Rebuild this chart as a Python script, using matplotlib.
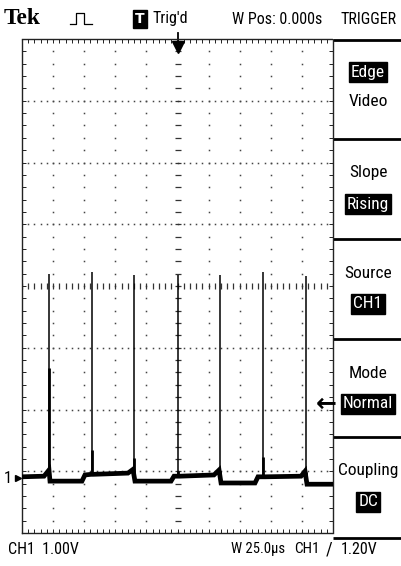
import numpy as np
import matplotlib
matplotlib.use("Agg")
import matplotlib.pyplot as plt
from matplotlib import font_manager as fm
from matplotlib.transforms import blended_transform_factory

# ---- scope settings --------------------------------------------------------
volts_per_div = 1.00
us_per_div = 25.0
trig_level = 1.20
ground_div = 3.11          # ground marker sits 3.11 div below screen centre

# ---- waveform (time in us, volts above ground) -----------------------------
base_t = [-125.0, -107.3, -104.1, -103.3, -102.5, -76.8, -74.4, -69.5, -67.9,
          -39.8, -35.8, -34.2, -5.2, -2.8, 0.4, 2.0, 29.3, 33.4, 35.0, 62.3,
          64.7, 68.7, 70.4, 99.3, 102.5, 104.1, 125.0]
base_v = [0.02, 0.03, 0.11, 0.13, -0.05, -0.05, 0.05, 0.06, 0.06,
          0.08, 0.14, -0.05, -0.05, 0.03, 0.03, 0.03, 0.05, 0.13, -0.08, -0.08,
          0.02, 0.02, 0.02, 0.03, 0.11, -0.10, -0.10]

pulse_t = [-103.3, -68.7, -35.0, 0.0, 34.2, 68.7, 103.3]
pulse_top = [3.31, 3.34, 3.29, 3.29, 3.29, 3.33, 3.28]
pulse_foot = [1.79, 0.45, 0.32, 0.12, 0.12, 0.34, 0.10]   # heavier lower part

# ---- right-hand menu -------------------------------------------------------
menu_top = ["Edge", "Slope", "Source", "Mode", "Coupling"]
menu_bot = ["Video", "Rising", "CH1", "Normal", "DC"]
menu_hi = [0, 1, 1, 1, 1]          # which row is shown inverted
menu_top_w = [21, 26, 33, 28, 44]  # text widths on screen, px
menu_bot_w = [28, 30, 18, 36, 16]
menu_lines_px = [40, 139, 239, 339, 437, 538]


def pick_narrow():
    """Find a condensed sans face if one is installed."""
    prefs = ["Liberation Sans Narrow", "Roboto Condensed", "DejaVu Sans",
             "Open Sans", "Noto Sans"]
    regular = (400, "normal", "regular", "book")
    cands = [f for f in fm.fontManager.ttflist
             if f.style == "normal" and f.weight in regular
             and "Bold" not in f.fname
             and ("condensed" in str(f.stretch) or "Narrow" in f.name
                  or "Condensed" in f.name)]
    for p in prefs:
        for f in cands:
            if f.name == p:
                return fm.FontProperties(fname=f.fname)
    if cands:
        return fm.FontProperties(fname=cands[0].fname)
    return fm.FontProperties(family="DejaVu Sans")


NARROW = pick_narrow()
W, H = 401, 566

fig = plt.figure(figsize=(W / 100, H / 100), dpi=100)
fig.patch.set_facecolor("white")

# overlay in pixel coordinates for the status text and menu
ov = fig.add_axes([0, 0, 1, 1])
ov.set_xlim(0, W); ov.set_ylim(H, 0); ov.axis("off")

fitted = []   # (text, target width px, min size, max size)


def put(x, y, s, width, ha="left", inv=False, lo=11.5, hi=13, fp=None):
    t = ov.text(x, y, s, ha=ha, va="center", fontproperties=fp or NARROW,
                color="white" if inv else "black")
    t.set_fontsize(10)
    if inv:
        t.set_bbox(dict(boxstyle="square,pad=0.12", fc="black", ec="black"))
    fitted.append((t, width, lo, hi))
    return t


# graticule: 10 x 8 divisions
gl, gr, gt, gb = 22, 333, 39, 533
ax = fig.add_axes([gl / W, 1 - gb / H, (gr - gl) / W, (gb - gt) / H])
ax.set_facecolor("none")
xmin, xmax = -5 * us_per_div, 5 * us_per_div
yc = ground_div * volts_per_div
ymin, ymax = yc - 4 * volts_per_div, yc + 4 * volts_per_div
ax.set_xlim(xmin, xmax); ax.set_ylim(ymin, ymax)

ax.set_xticks(np.arange(xmin, xmax + 1, us_per_div))
ax.set_xticks(np.arange(xmin, xmax + 1, us_per_div / 5), minor=True)
ax.set_yticks(yc + np.arange(-4, 5) * volts_per_div)
ax.set_yticks(yc + np.arange(-20, 21) * volts_per_div / 5, minor=True)
ax.tick_params(which="both", direction="in", top=True, right=True,
               length=3, width=0.7, color="#222",
               labelbottom=False, labelleft=False)
for s in ax.spines.values():
    s.set_linestyle((0, (1, 1)))
    s.set_linewidth(1.0)
    s.set_color("#222")

# dotted grid
xs_minor = np.arange(xmin, xmax + 0.01, us_per_div / 5)
ys_minor = yc + np.arange(-20, 21) * volts_per_div / 5
for k in range(1, 10):
    if k == 5:
        continue
    x = xmin + k * us_per_div
    ax.plot(np.full_like(ys_minor, x), ys_minor, ls="none", marker="s",
            ms=1.1, mew=0, color="#444")
for k in range(1, 8):
    if k == 4:
        continue
    y = ymin + k * volts_per_div
    ax.plot(xs_minor, np.full_like(xs_minor, y), ls="none", marker="s",
            ms=1.1, mew=0, color="#444")
# centre cross with tick marks
ax.plot(np.zeros_like(ys_minor), ys_minor, ls="none", marker="_", ms=4,
        mew=0.9, color="#333")
ax.plot(xs_minor, np.full_like(xs_minor, yc), ls="none", marker="|", ms=4,
        mew=0.9, color="#333")

# trace
ax.plot(base_t, base_v, color="black", lw=3.4, solid_joinstyle="miter",
        zorder=5)
p0 = np.interp(pulse_t, base_t, base_v)
ax.vlines(pulse_t, p0, pulse_top, color="black", lw=1.1, zorder=5)
ax.vlines(pulse_t, p0, pulse_foot, color="black", lw=2.0, zorder=5)

# markers: ground, trigger level, trigger position
bt = blended_transform_factory(ax.transAxes, ax.transData)
ax.plot([-0.012], [0], marker=">", ms=5, color="black", transform=bt,
        clip_on=False)
ax.text(-0.045, 0, "1", transform=bt, ha="center", va="center",
        fontsize=12, fontproperties=NARROW)
ax.text(1.012, trig_level, "\u2190", transform=bt, ha="right", va="center",
        fontsize=18, fontweight="bold", family=["DejaVu Sans"])
tb = blended_transform_factory(ax.transData, ax.transAxes)
ax.plot([0, 0], [1.012, 0.99], color="black", lw=1.3, transform=tb,
        clip_on=False)
ax.plot([0], [0.983], marker="v", ms=8, color="black", transform=tb,
        clip_on=False)

# ---- top status line --------------------------------------------------------
put(4, 18, "Tek", 37, lo=14, hi=19,
    fp=fm.FontProperties(family=["Liberation Serif", "DejaVu Serif"],
                         weight="bold"))
ov.plot([70, 76, 76, 84, 84, 92], [24, 24, 13, 13, 24, 24], color="black",
        lw=0.9)
ov.text(140, 19, "T", color="white", fontsize=10, fontweight="bold",
        ha="center", va="center", family=["DejaVu Sans"],
        bbox=dict(boxstyle="square,pad=0.15", fc="black", ec="black"))
put(152, 19, "Trig'd", 31)
put(232, 19, "W Pos: 0.000s", 73)
put(369, 19, "TRIGGER", 48, ha="center")

# ---- menu -------------------------------------------------------------------
for y in menu_lines_px:
    ov.plot([333, W], [y, y], color="black", lw=2.0, solid_capstyle="butt")
for i in range(len(menu_top)):
    y0 = menu_lines_px[i]
    d = 2 if i == 0 else 0
    put(368, y0 + 34 - d, menu_top[i], menu_top_w[i], ha="center",
        inv=(menu_hi[i] == 0), lo=12.5, hi=14)
    put(368, y0 + 65 - 2 * d, menu_bot[i], menu_bot_w[i], ha="center",
        inv=(menu_hi[i] == 1), lo=12.5, hi=14)

# ---- bottom readout ---------------------------------------------------------
put(8, 549, f"CH1  {volts_per_div:.2f}V", 62)
put(231, 549, f"W {us_per_div:.1f}\u03bcs", 52, lo=10.5)
put(294, 549, "CH1", 24, lo=11)
put(329, 549, "/", 7, ha="center")
put(341, 549, f"{trig_level:.2f}V", 28)

# size each label to roughly the width it has on the screen
r = fig.canvas.get_renderer()
for t, width, lo, hi in fitted:
    bb = t.get_window_extent(renderer=r)
    if bb.width > 0:
        t.set_fontsize(float(np.clip(10 * width / bb.width, lo, hi)))

fig.savefig("out.png", dpi=100)
